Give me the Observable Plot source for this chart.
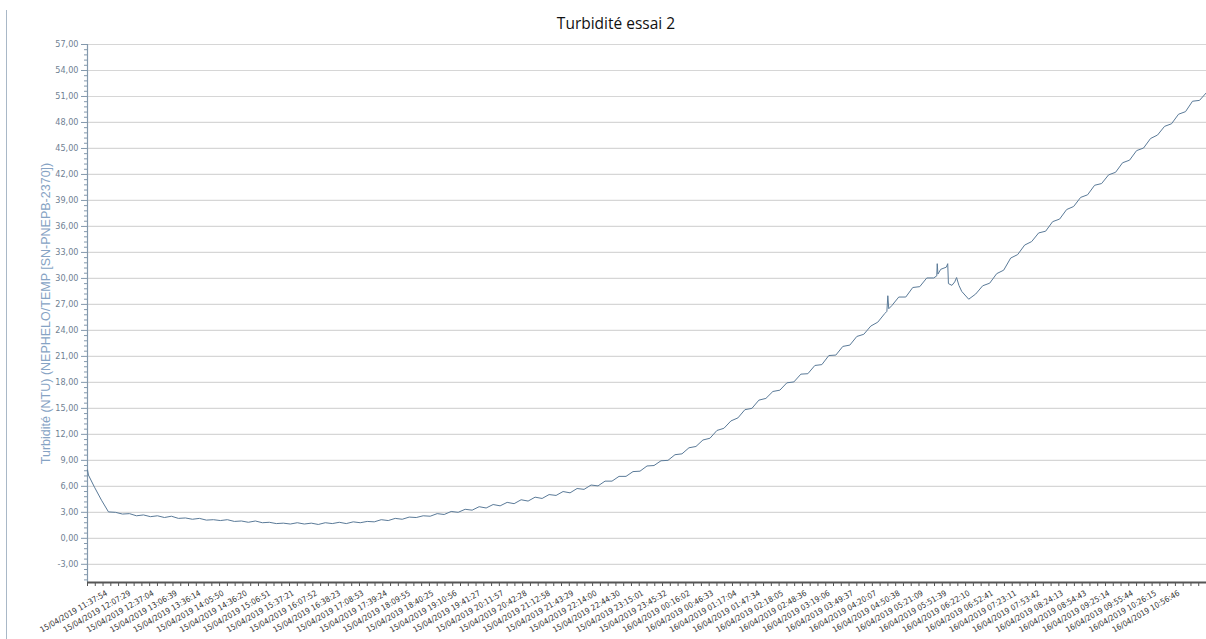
<!DOCTYPE html>
<html>
<head>
<meta charset="utf-8">
<script src="https://cdn.jsdelivr.net/npm/d3@7"></script>
<script src="https://cdn.jsdelivr.net/npm/@observablehq/plot@0.6"></script>
<style>
  html, body { margin: 0; padding: 0; background: #fff; }
  #wrap { position: relative; width: 1206px; height: 639px; overflow: hidden; background: #fff; }
  #wrap svg { position: absolute; left: 0; top: 0; }
  #edge { position: absolute; left: 6px; top: 10px; bottom: 0; border-left: 1px solid #a9b8c7; }
</style>
</head>
<body>
<div id="wrap"><div id="edge"></div></div>
<script>
// ---- data ----
const chartTitle = "Turbidité essai 2";
const yTitle = "Turbidité (NTU) (NEPHELO/TEMP [SN-PNEPB-2370])";

// readings every 30 samples
const sampleStep = 30;
const turbidity = [
  7.9, 5.9, 4.4, 3.05, 3.0, 2.8, 2.85, 2.6, 2.7, 2.5,
  2.6, 2.4, 2.55, 2.3, 2.35, 2.2, 2.3, 2.1, 2.15, 2.05,
  2.15, 1.95, 2.0, 1.85, 2.0, 1.8, 1.85, 1.7, 1.75, 1.65,
  1.8, 1.65, 1.75, 1.6, 1.8, 1.7, 1.85, 1.7, 1.9, 1.8,
  1.95, 1.9, 2.15, 2.05, 2.3, 2.2, 2.45, 2.4, 2.6, 2.55,
  2.85, 2.75, 3.1, 3.0, 3.35, 3.25, 3.65, 3.5, 3.9, 3.75,
  4.15, 4.0, 4.45, 4.3, 4.75, 4.6, 5.05, 4.95, 5.4, 5.25,
  5.75, 5.65, 6.15, 6.05, 6.6, 6.6, 7.15, 7.15, 7.7, 7.75,
  8.35, 8.4, 8.95, 9.0, 9.65, 9.75, 10.45, 10.6, 11.35, 11.55,
  12.45, 12.7, 13.55, 13.9, 14.85, 15.0, 15.95, 16.15, 16.95, 17.1,
  17.95, 18.05, 18.95, 19.0, 19.95, 20.05, 21.1, 21.15, 22.15, 22.3,
  23.3, 23.55, 24.5, 24.95, 25.95, 26.85, 27.85, 27.85, 28.95, 29.05,
  30.05, 30.05, 31.05, 31.7, 29.6, 28.5, 27.6, 28.2, 29.15, 29.45,
  30.55, 30.95, 32.35, 32.75, 33.85, 34.25, 35.25, 35.45, 36.55, 36.85,
  37.95, 38.3, 39.35, 39.65, 40.75, 40.95, 41.95, 42.25, 43.35, 43.65,
  44.75, 45.05, 46.15, 46.55, 47.55, 47.85, 48.95, 49.25, 50.45, 50.55,
  51.45
];

// isolated readings (peaks / drops)
const spikeSamples = [4, 3429, 3433, 3437, 3643, 3645, 3648, 3684, 3693, 3708, 3728, 3738];
const spikeValues  = [7.3, 26.2, 28.0, 26.5, 30.3, 31.7, 30.5, 31.3, 29.4, 29.2, 30.1, 29.2];

const tickLabels = [
  "15/04/2019 11:37:54","15/04/2019 12:07:29","15/04/2019 12:37:04","15/04/2019 13:06:39",
  "15/04/2019 13:36:14","15/04/2019 14:05:50","15/04/2019 14:36:20","15/04/2019 15:06:51",
  "15/04/2019 15:37:21","15/04/2019 16:07:52","15/04/2019 16:38:23","15/04/2019 17:08:53",
  "15/04/2019 17:39:24","15/04/2019 18:09:55","15/04/2019 18:40:25","15/04/2019 19:10:56",
  "15/04/2019 19:41:27","15/04/2019 20:11:57","15/04/2019 20:42:28","15/04/2019 21:12:58",
  "15/04/2019 21:43:29","15/04/2019 22:14:00","15/04/2019 22:44:30","15/04/2019 23:15:01",
  "15/04/2019 23:45:32","16/04/2019 00:16:02","16/04/2019 00:46:33","16/04/2019 01:17:04",
  "16/04/2019 01:47:34","16/04/2019 02:18:05","16/04/2019 02:48:36","16/04/2019 03:19:06",
  "16/04/2019 03:49:37","16/04/2019 04:20:07","16/04/2019 04:50:38","16/04/2019 05:21:09",
  "16/04/2019 05:51:39","16/04/2019 06:22:10","16/04/2019 06:52:41","16/04/2019 07:23:11",
  "16/04/2019 07:53:42","16/04/2019 08:24:13","16/04/2019 08:54:43","16/04/2019 09:25:14",
  "16/04/2019 09:55:44","16/04/2019 10:26:15","16/04/2019 10:56:46"
];
const firstLabelSample = 82;
const samplesPerLabel = 100;

const yTicks = [-3, 0, 3, 6, 9, 12, 15, 18, 21, 24, 27, 30, 33, 36, 39, 42, 45, 48, 51, 54, 57];
const yDomain = [-5.1, 57];

// ---- build ----
const series = turbidity.map((v, i) => ({sample: i * sampleStep, value: v}))
  .concat(spikeSamples.map((s, i) => ({sample: s, value: spikeValues[i]})))
  .sort((a, b) => a.sample - b.sample);
const lastSample = (turbidity.length - 1) * sampleStep;

const labelSamples = tickLabels.map((_, i) => firstLabelSample + i * samplesPerLabel);
const labelBySample = new Map(labelSamples.map((s, i) => [s, tickLabels[i]]));
const xMinor = d3.range(0, lastSample + 1, samplesPerLabel / 3);
const yMinor = d3.range(-4.8, 57, 0.6).filter(v => Math.abs(v / 3 - Math.round(v / 3)) > 1e-6);
const fmt = v => v.toFixed(2).replace(".", ",").replace("-0,00", "0,00");

const axisColor = "#8499ad";

const chart = Plot.plot({
  width: 1206,
  height: 639,
  marginLeft: 87,
  marginRight: 0,
  marginTop: 44,
  marginBottom: 57,
  style: {background: "transparent", fontFamily: "'Liberation Sans', Arial, sans-serif"},
  x: {domain: [0, lastSample], axis: null},
  y: {domain: yDomain, axis: null},
  marks: [
    Plot.gridY(yTicks, {stroke: "#d6d6d6", strokeOpacity: 1, strokeWidth: 1.2}),
    Plot.axisY({ticks: yMinor, tickSize: 3, tickFormat: () => "", stroke: axisColor, label: null}),
    Plot.axisY({ticks: yTicks, tickSize: 6, tickPadding: 3, tickFormat: fmt, label: null,
      stroke: axisColor, fill: "#6f8193", fontSize: 9,
      fontFamily: "'DejaVu Sans Condensed', 'Liberation Sans', sans-serif"}),
    Plot.ruleX([0], {stroke: axisColor, strokeWidth: 1.2}),
    Plot.axisX({ticks: xMinor, tickSize: 4, tickFormat: () => "", stroke: "#555", label: null}),
    Plot.axisX({ticks: labelSamples, tickSize: 0, tickPadding: 10, tickRotate: -30,
      tickFormat: d => labelBySample.get(d), label: null, fill: "#333", fontSize: 8,
      fontFamily: "'DejaVu Sans Condensed', 'Liberation Sans', sans-serif"}),
    Plot.ruleY([yDomain[0]], {stroke: "#555", strokeWidth: 2}),
    Plot.line(series, {x: "sample", y: "value", stroke: "#5a7a98", strokeWidth: 1}),
    Plot.text([yTitle], {text: d => d, frameAnchor: "left", rotate: -90, dx: -42,
      textAnchor: "middle", lineAnchor: "middle",
      fill: "#86a3c4", fontSize: 12.5, fontFamily: "'Liberation Sans', Arial, sans-serif"}),
    Plot.text([chartTitle], {text: d => d, frameAnchor: "top", dx: -31, dy: -27,
      textAnchor: "middle", fill: "#111", fontSize: 15.5, fontFamily: "'Open Sans', sans-serif"})
  ]
});
document.getElementById("wrap").insertBefore(chart, document.getElementById("edge"));
</script>
</body>
</html>
